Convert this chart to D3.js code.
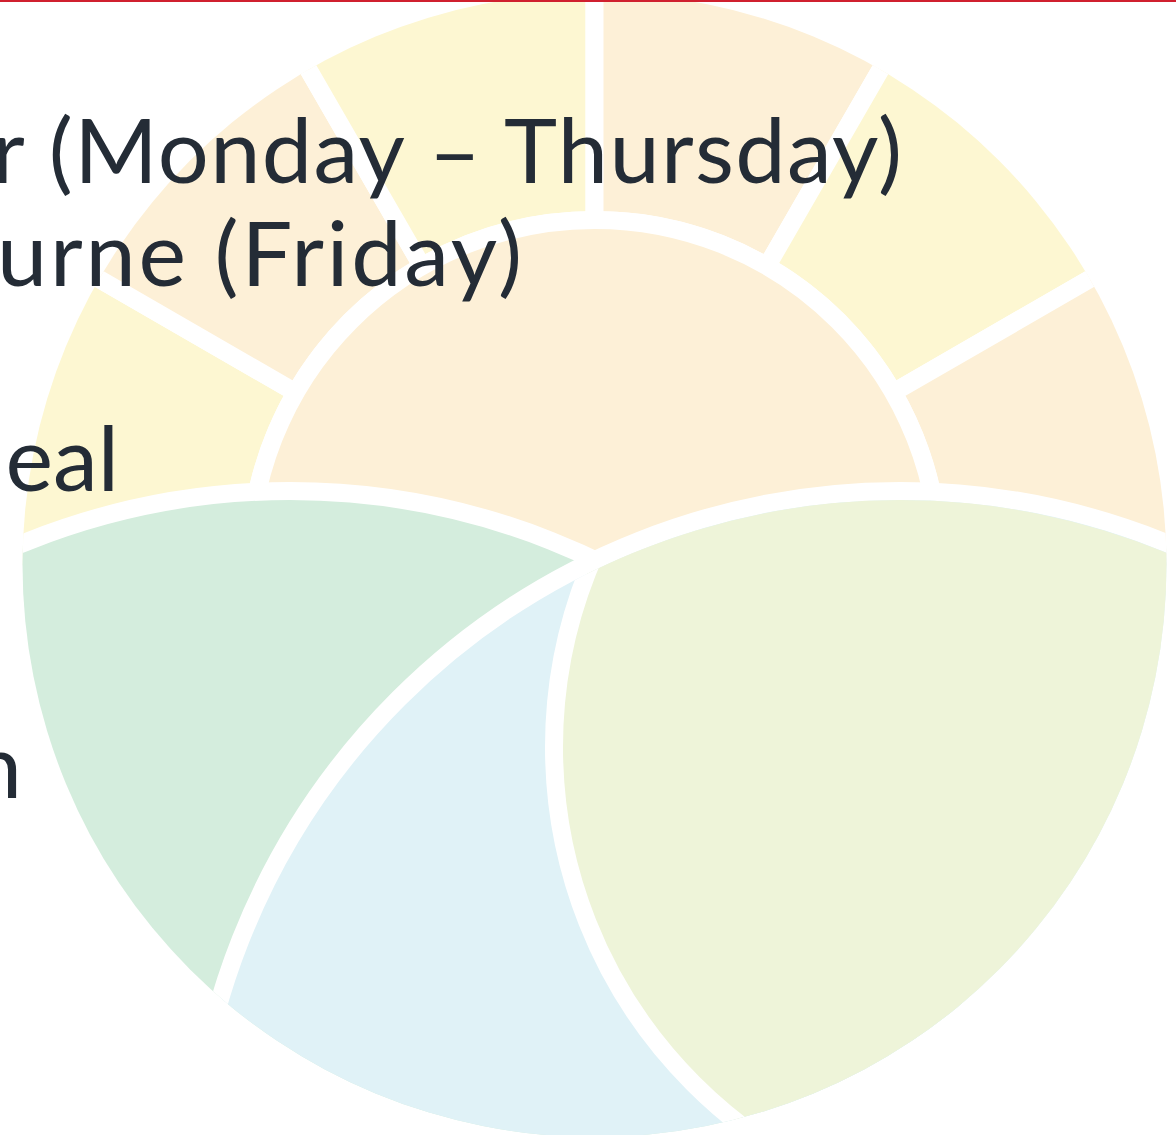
<!DOCTYPE html>
<html>
<head>
<meta charset="utf-8">
<script src="https://cdn.jsdelivr.net/npm/d3@7"></script>
<style>
    html, body { margin: 0; padding: 0; background: #fff; overflow: hidden; }
    svg { display: block; }
</style>
</head>
<body>
<svg id="chart"></svg>
<script>
// six equal rays round the top half of the disc
const rays = ["ray1", "ray2", "ray3", "ray4", "ray5", "ray6"];
const rayShares = [1, 1, 1, 1, 1, 1];
const rayColours = ["#fdf7d2", "#fdf0d7", "#fdf7d2", "#fdf0d7", "#fdf7d2", "#fdf0d7"];

// the lower half: two hills, and a field cut out of the right one
const hills = ["left", "right"];
const hillColours = ["#d4eddd", "#e0f2f7"];
const fieldColour = "#eef4d9";
const sunColour = "#fdf0d7";

// visible parts of the text lines (the rest runs off the left edge)
const textLines = ["r (Monday – Thursday)", "urne (Friday)", "", "eal", "", "", "n"];
const lineEnds = [902, 522, null, 119, null, null, 22];
const lineLengths = [910, 525, null, null, null, null, null];

const width = 1176;
const height = 1135;

const centre = { x: 594.5, y: 565 };
const outerRadius = 572;
const ringInner = 345;
const gap = 18;
const hillRadius = 709;
const hillCentres = { left: { x: 290, y: 1200 }, right: { x: 900, y: 1200 } };
const field = { x: 1030, y: 747, r: 476 };

const svg = d3.select("#chart")
    .attr("width", width)
    .attr("height", height);

const defs = svg.append("defs");

defs.append("clipPath")
    .attr("id", "disc-clip")
    .append("circle")
    .attr("cx", centre.x)
    .attr("cy", centre.y)
    .attr("r", outerRadius);

defs.append("clipPath")
    .attr("id", "hill-clip")
    .append("circle")
    .attr("cx", hillCentres.right.x)
    .attr("cy", hillCentres.right.y)
    .attr("r", hillRadius - gap / 2);

const disc = svg.append("g")
    .attr("clip-path", "url(#disc-clip)");

const colour = d3.scaleOrdinal()
    .domain(rays)
    .range(rayColours);

const pie = d3.pie()
    .sort(null)
    .startAngle(-Math.PI / 2)
    .endAngle(Math.PI / 2);

const rayArc = d3.arc()
    .innerRadius(ringInner)
    .outerRadius(outerRadius + 40);

disc.append("g")
    .attr("transform", `translate(${centre.x},${centre.y})`)
    .selectAll("path.ray")
    .data(pie(rayShares))
    .join("path")
    .attr("class", "ray")
    .attr("d", rayArc)
    .attr("fill", (d, i) => colour(rays[i]))
    .attr("stroke", "white")
    .attr("stroke-width", gap)
    .attr("stroke-linejoin", "round");

const sunArc = d3.arc()
    .innerRadius(0)
    .outerRadius(ringInner)
    .startAngle(-Math.PI / 2)
    .endAngle(Math.PI / 2);

disc.append("path")
    .attr("transform", `translate(${centre.x},${centre.y})`)
    .attr("d", sunArc())
    .attr("fill", sunColour)
    .attr("stroke", "white")
    .attr("stroke-width", gap)
    .attr("stroke-linejoin", "round");

const hillColour = d3.scaleOrdinal()
    .domain(hills)
    .range(hillColours);

disc.selectAll("circle.hill")
    .data(hills)
    .join("circle")
    .attr("class", "hill")
    .attr("cx", d => hillCentres[d].x)
    .attr("cy", d => hillCentres[d].y)
    .attr("r", hillRadius)
    .attr("fill", d => hillColour(d))
    .attr("stroke", "white")
    .attr("stroke-width", gap);

disc.append("g")
    .attr("clip-path", "url(#hill-clip)")
    .append("circle")
    .attr("cx", field.x)
    .attr("cy", field.y)
    .attr("r", field.r)
    .attr("fill", fieldColour)
    .attr("stroke", "white")
    .attr("stroke-width", gap);

// text on top
const lineY = d3.scaleLinear()
    .domain([0, 1])
    .range([183.3, 285.8]);

svg.append("g")
    .selectAll("text")
    .data(textLines.map((t, i) => ({ text: t, i: i })).filter(d => d.text !== ""))
    .join("text")
    .attr("x", d => lineEnds[d.i])
    .attr("y", d => lineY(d.i))
    .attr("text-anchor", "end")
    .attr("font-family", "Lato, 'Open Sans', sans-serif")
    .attr("font-size", 90)
    .attr("fill", "#242c36")
    .each(function(d) {
        if (lineLengths[d.i]) {
            d3.select(this)
                .attr("textLength", lineLengths[d.i])
                .attr("lengthAdjust", "spacing");
        }
    })
    .text(d => d.text);

// thin red rule along the top edge
svg.append("rect")
    .attr("x", 0)
    .attr("y", 0)
    .attr("width", width)
    .attr("height", 2)
    .attr("fill", "#d0202f");
</script>
</body>
</html>
